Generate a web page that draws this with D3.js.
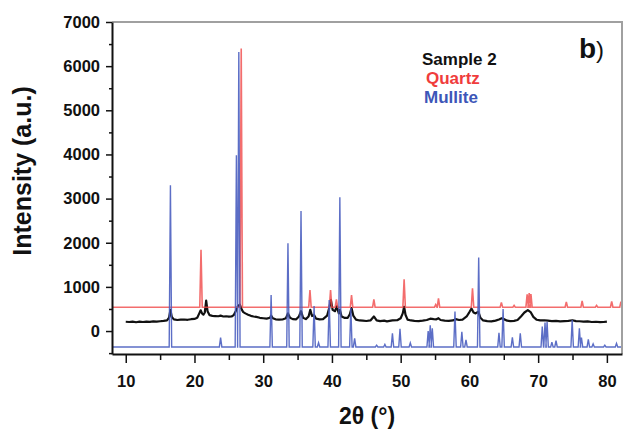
<!DOCTYPE html>
<html>
<head>
<meta charset="utf-8">
<script src="https://cdn.jsdelivr.net/npm/d3@7"></script>
<style>
  body { margin: 0; background: #fff; }
  svg text { font-family: "Liberation Sans", Arial, sans-serif; }
</style>
</head>
<body>
<svg id="chart" width="628" height="429"></svg>
<script>
// --- data --------------------------------------------------------
const xTicks = [10, 20, 30, 40, 50, 60, 70, 80];
const yTicks = [0, 1000, 2000, 3000, 4000, 5000, 6000, 7000];

// Sample 2 measured pattern: [2theta, intensity]
const sample2 = [
  [10.0,210],[10.5,205],[11,215],[11.5,200],[12,212],[12.5,205],[13,215],[13.5,208],
  [14,218],[14.5,212],[15,222],[15.5,230],[16,240],[16.3,300],[16.5,480],[16.7,320],
  [17,265],[17.5,250],[18,258],[18.5,262],[19,255],[19.5,268],[20,275],[20.4,300],
  [20.7,400],[20.9,470],[21.1,400],[21.3,370],[21.5,420],[21.7,690],[21.9,450],[22.2,360],
  [22.6,345],[23,340],[23.5,335],[23.8,350],[24.2,330],[24.6,335],[25,325],[25.4,330],
  [25.7,360],[26.0,450],[26.3,560],[26.6,600],[26.9,480],[27.1,430],[27.4,400],[27.8,370],
  [28.2,345],[28.6,330],[29,320],[29.5,300],[30,290],[30.5,280],[31.0,300],[31.15,350],
  [31.4,290],[31.8,265],[32.3,260],[32.8,262],[33.3,290],[33.6,400],[33.9,300],[34.3,270],
  [34.8,265],[35.2,330],[35.5,450],[35.8,300],[36.2,270],[36.6,330],[36.85,480],[37.1,340],
  [37.4,360],[37.7,280],[38.2,265],[38.7,270],[39.3,350],[39.6,520],[39.85,700],[40.1,480],
  [40.45,450],[40.7,560],[41.0,400],[41.15,480],[41.4,330],[41.8,300],[42.3,300],[42.6,380],
  [42.85,520],[43.1,350],[43.5,260],[44,240],[44.5,235],[45,228],[45.6,240],[46.1,330],
  [46.5,240],[47,225],[47.6,235],[48,220],[48.8,240],[49.5,245],[50.0,290],[50.3,400],
  [50.5,550],[50.7,370],[51,260],[51.5,240],[52,230],[52.6,225],[53.2,235],[53.8,250],
  [54.3,280],[54.8,270],[55.2,265],[55.5,290],[55.8,250],[56.4,235],[57,230],[57.6,240],
  [58,270],[58.5,250],[59,260],[59.6,330],[60.0,430],[60.3,510],[60.6,420],[60.9,400],
  [61.3,440],[61.6,300],[62,240],[62.6,225],[63.2,220],[63.8,235],[64.3,260],[64.7,290],
  [65,270],[65.5,235],[66,225],[66.5,230],[67,250],[67.5,330],[68,420],[68.5,475],
  [68.9,430],[69.3,320],[69.8,255],[70.3,240],[70.9,245],[71.4,235],[72,225],[72.6,230],
  [73.2,220],[73.8,225],[74.4,230],[75,245],[75.5,225],[76,222],[76.6,215],[77.2,220],
  [77.8,205],[78.4,210],[79,200],[79.5,205],[80,215]
];

// Quartz reference pattern (offset baseline) : [2theta, peak top]
const quartzBase = 540;
const quartzPeaks = [
  [20.95,1840],[26.8,6400],[36.8,930],[39.8,930],[40.65,720],[42.85,815],[46.1,720],
  [50.5,1170],[55.1,600],[55.5,740],[60.45,970],[64.65,650],[66.5,580],[68.4,830],
  [68.7,860],[68.95,840],[74.1,660],[76.4,680],[78.5,580],[80.7,670],[82.05,665]
];

// Mullite reference pattern (offset baseline)
const mulliteBase = -360;
const mullitePeaks = [
  [16.5,3300],[23.8,-150],[26.1,3980],[26.45,6320],[31.15,815],[33.6,1990],[35.5,2720],
  [37.4,565],[38.05,-265],[39.6,700],[41.15,3030],[42.75,520],[43.3,-165],[46.5,-320],
  [47.7,-300],[48.8,-50],[49.9,50],[51.4,-270],[54.0,0],[54.3,130],[54.6,60],[57.9,440],
  [58.9,-15],[59.5,-200],[61.35,1665],[64.3,-40],[64.9,500],[66.25,-140],[67.4,-50],
  [70.6,100],[71.0,190],[71.3,210],[72.0,-250],[72.6,-220],[74.95,250],[76.0,60],
  [76.3,-150],[77.3,-190],[78.0,-290],[79.7,-320],[81.4,-280],[82.3,-250]
];

const legend = [
  { label: 'Sample 2', color: '#111' },
  { label: 'Quartz',   color: '#f03c3c' },
  { label: 'Mullite',  color: '#3d56b8' }
];

// --- layout ------------------------------------------------------
const svg = d3.select('#chart');
const L = 112, R = 622, T = 22, B = 354;

const x = d3.scaleLinear().domain([8, 82.2]).range([L, R]);
const y = d3.scaleLinear().domain([-520, 7000]).range([B, T]);

// turn a stick list into a spiky polyline on its baseline
function stickPoints(base, peaks, w) {
  const pts = [[x.domain()[0], base]];
  peaks.forEach(([p, h]) => {
    pts.push([p - w, base], [p, h], [p + w, base]);
  });
  pts.push([x.domain()[1], base]);
  return pts;
}

const line = d3.line().x(d => x(d[0])).y(d => y(d[1]));

const plot = svg.append('g');
plot.append('clipPath').attr('id', 'clip')
  .append('rect').attr('x', L).attr('y', T).attr('width', R - L).attr('height', B - T);

const g = plot.append('g').attr('clip-path', 'url(#clip)');

g.append('path')
  .attr('d', line(sample2))
  .attr('fill', 'none')
  .attr('stroke', '#111')
  .attr('stroke-width', 2.2)
  .attr('stroke-linejoin', 'round');

g.append('path')
  .attr('d', line(stickPoints(quartzBase, quartzPeaks, 0.18)))
  .attr('fill', 'none')
  .attr('stroke', '#f04848')
  .attr('stroke-opacity', 0.8)
  .attr('stroke-width', 1.6);

g.append('path')
  .attr('d', line(stickPoints(mulliteBase, mullitePeaks, 0.18)))
  .attr('fill', 'none')
  .attr('stroke', '#4a5ec0')
  .attr('stroke-opacity', 0.9)
  .attr('stroke-width', 1.4);

// frame (top/right in grey)
svg.append('path')
  .attr('d', `M${L},${T}H${R}V${B}`)
  .attr('fill', 'none')
  .attr('stroke', '#a0a0a0')
  .attr('stroke-width', 2);

// --- axes --------------------------------------------------------
const xMinor = d3.range(15, 80, 10);
const yMinor = d3.range(-500, 7000, 1000);

svg.append('g').attr('transform', `translate(0,${B})`)
  .call(d3.axisBottom(x).tickValues(xTicks).tickSize(9).tickSizeOuter(0).tickPadding(12)
    .tickFormat(d3.format('d')));
svg.append('g').attr('transform', `translate(0,${B})`)
  .call(d3.axisBottom(x).tickValues(xMinor).tickSize(6).tickFormat('').tickSizeOuter(0))
  .select('.domain').remove();

svg.append('g').attr('transform', `translate(${L},0)`)
  .call(d3.axisLeft(y).tickValues(yTicks).tickSize(6).tickSizeOuter(0).tickPadding(6)
    .tickFormat(d3.format('d')));
svg.append('g').attr('transform', `translate(${L},0)`)
  .call(d3.axisLeft(y).tickValues(yMinor).tickSize(3).tickFormat('').tickSizeOuter(0))
  .select('.domain').remove();

svg.selectAll('.tick line').attr('stroke', '#111').attr('stroke-width', 1.5);
svg.selectAll('.domain').attr('stroke', '#111').attr('stroke-width', 2);
svg.selectAll('.tick text')
  .attr('fill', '#111')
  .style('font-size', '16.5px')
  .style('font-weight', 'bold');

// axis titles
svg.append('text')
  .attr('x', (L + R) / 2).attr('y', 424)
  .attr('text-anchor', 'middle')
  .style('font-size', '23px').style('font-weight', 'bold')
  .attr('fill', '#111')
  .text('2θ (°)');

svg.append('text')
  .attr('transform', 'translate(31,171) rotate(-90)')
  .attr('text-anchor', 'middle')
  .style('font-size', '25px').style('font-weight', 'bold')
  .attr('fill', '#111')
  .text('Intensity (a.u.)');

// legend
const lg = svg.append('g');
lg.selectAll('text').data(legend).join('text')
  .attr('x', (d, i) => [422, 426, 424][i])
  .attr('y', (d, i) => 65 + i * 19)
  .attr('fill', d => d.color)
  .style('font-size', '17px').style('font-weight', 'bold')
  .text(d => d.label);

// panel label
const pl = svg.append('text').attr('x', 579).attr('y', 58).attr('fill', '#111');
pl.append('tspan').style('font-size', '28px').style('font-weight', 'bold').text('b');
pl.append('tspan').style('font-size', '24px').text(')');
</script>
</body>
</html>
